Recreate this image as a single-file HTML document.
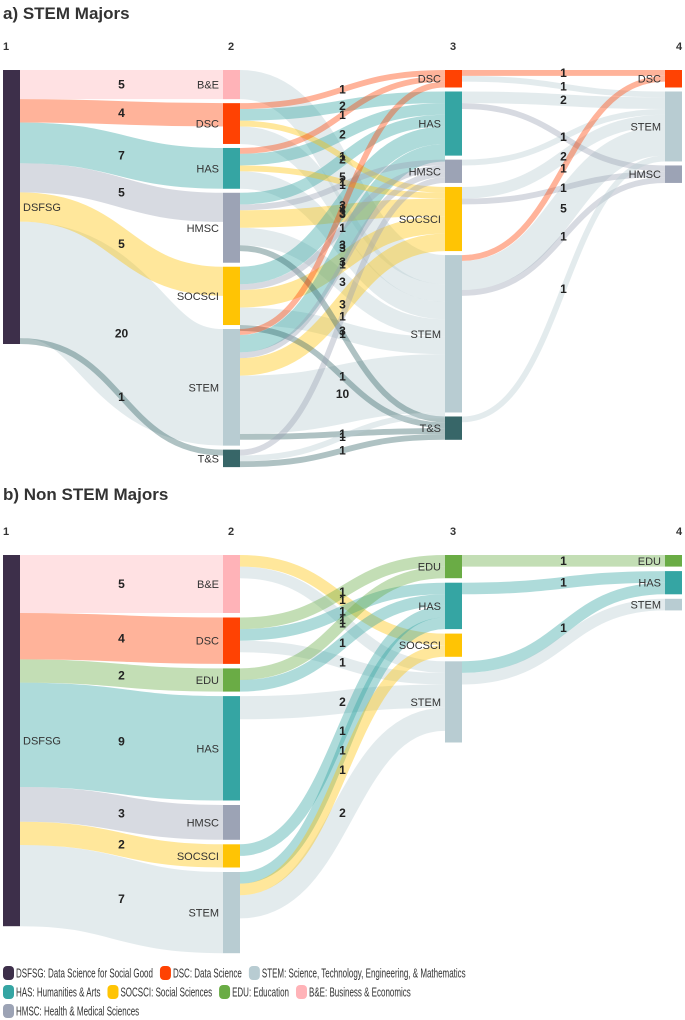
<!DOCTYPE html>
<html><head><meta charset="utf-8">
<style>
html,body{margin:0;padding:0;background:#fff;width:685px;height:1020px;overflow:hidden;font-family:"Liberation Sans",sans-serif;}
svg text{font-family:"Liberation Sans",sans-serif;}
</style></head>
<body>
<svg id="chart" width="685" height="1020" viewBox="0 0 685 1020" xmlns="http://www.w3.org/2000/svg">
<text x="3" y="19" font-size="17" font-weight="bold" fill="#333">a) STEM Majors</text>
<text x="3" y="500" font-size="17" font-weight="bold" fill="#333">b) Non STEM Majors</text>
<g id="legend"></g>
</svg>
<script>
// ---------- Panel a data ----------
const aNodeNames = [["DSFSG"],["B&E","DSC","HAS","HMSC","SOCSCI","STEM","T&S"],["DSC","HAS","HMSC","SOCSCI","STEM","T&S"],["DSC","STEM","HMSC"]];
const aNodeValues = [[47],[5,7,7,12,10,20,3],[3,11,4,11,27,4],[3,12,3]];
const aLinkFrom = ["0:DSFSG","0:DSFSG","0:DSFSG","0:DSFSG","0:DSFSG","0:DSFSG","0:DSFSG",
 "1:B&E","1:DSC","1:DSC","1:DSC","1:DSC","1:HAS","1:HAS","1:HAS","1:HAS","1:HMSC","1:HMSC","1:HMSC","1:HMSC","1:HMSC",
 "1:SOCSCI","1:SOCSCI","1:SOCSCI","1:SOCSCI","1:SOCSCI","1:STEM","1:STEM","1:STEM","1:STEM","1:STEM","1:STEM","1:T&S","1:T&S","1:T&S",
 "2:DSC","2:DSC","2:HAS","2:HAS","2:HMSC","2:SOCSCI","2:SOCSCI","2:STEM","2:STEM","2:STEM","2:T&S"];
const aLinkTo = ["1:B&E","1:DSC","1:HAS","1:HMSC","1:SOCSCI","1:STEM","1:T&S",
 "2:STEM","2:DSC","2:HAS","2:SOCSCI","2:STEM","2:DSC","2:HAS","2:SOCSCI","2:STEM","2:HAS","2:HMSC","2:SOCSCI","2:STEM","2:T&S",
 "2:HAS","2:HMSC","2:SOCSCI","2:STEM","2:T&S","2:DSC","2:HAS","2:HMSC","2:SOCSCI","2:STEM","2:T&S","2:HMSC","2:STEM","2:T&S",
 "3:DSC","3:STEM","3:STEM","3:HMSC","3:STEM","3:STEM","3:HMSC","3:DSC","3:STEM","3:HMSC","3:STEM"];
const aLinkValue = [5,4,7,5,5,20,1,
 5,1,2,1,3,1,2,1,3,2,1,3,3,1,
 3,1,3,3,1,1,3,1,3,10,1,1,1,1,
 1,1,2,1,1,2,1,1,5,1,1];
const aHiddenLabels = [];

// ---------- Panel b data ----------
const bNodeNames = [["DSFSG"],["B&E","DSC","EDU","HAS","HMSC","SOCSCI","STEM"],["EDU","HAS","SOCSCI","STEM"],["EDU","HAS","STEM"]];
const bNodeValues = [[32],[5,4,2,9,3,2,7],[2,4,2,7],[1,2,1]];
const bLinkFrom = ["0:DSFSG","0:DSFSG","0:DSFSG","0:DSFSG","0:DSFSG","0:DSFSG","0:DSFSG",
 "1:B&E","1:B&E","1:DSC","1:DSC","1:DSC","1:EDU","1:EDU","1:HAS","1:SOCSCI","1:STEM","1:STEM","1:STEM",
 "2:EDU","2:HAS","2:STEM","2:STEM"];
const bLinkTo = ["1:B&E","1:DSC","1:EDU","1:HAS","1:HMSC","1:SOCSCI","1:STEM",
 "2:SOCSCI","2:STEM","2:EDU","2:HAS","2:STEM","2:EDU","2:HAS","2:STEM","2:HAS","2:HAS","2:SOCSCI","2:STEM",
 "3:EDU","3:HAS","3:HAS","3:STEM"];
const bLinkValue = [5,4,2,9,3,2,7,
 1,1,1,1,1,1,1,2,1,1,1,2,
 1,1,1,1];
const bHiddenLabels = [22];

// ---------- Legend data ----------
const legendKeys = ["DSFSG","DSC","STEM","HAS","SOCSCI","EDU","B&E","HMSC"];
const legendLabels = ["DSFSG: Data Science for Social Good","DSC: Data Science","STEM: Science, Technology, Engineering, & Mathematics","HAS: Humanities & Arts","SOCSCI: Social Sciences","EDU: Education","B&E: Business & Economics","HMSC: Health & Medical Sciences"];

const COLORS = {"DSFSG":"#3d2f4a","DSC":"#ff4203","STEM":"#b8ccd2","HAS":"#35a5a3","SOCSCI":"#ffc404","EDU":"#6aac45","B&E":"#ffb3b8","HMSC":"#9ca3b5","T&S":"#376668"};
const NS = "http://www.w3.org/2000/svg";
const svg = document.getElementById("chart");
function mk(tag, attrs, parent){const e=document.createElementNS(NS,tag);for(const k in attrs)e.setAttribute(k,attrs[k]);(parent||svg).appendChild(e);return e;}
function slug(s){return s.toLowerCase().replace(/&/g,"and").replace(/[^a-z0-9]+/g,"-");}

function drawSankey(p, names, values, from, to, vals, hidden, top, scale, gap, xs, headerY){
  const W = 17;
  const nodes = {};
  names.forEach((col,ci)=>{
    let y = top;
    col.forEach((n,i)=>{
      const h = values[ci][i]*scale;
      nodes[ci+":"+n] = {ci, i, name:n, y0:y, h, so:y, to:y};
      y += h + gap;
    });
  });
  const links = from.map((f,k)=>({k, s:nodes[f], t:nodes[to[k]], v:vals[k]}));
  const byS = links.slice().sort((a,b)=>a.s.ci-b.s.ci||a.s.i-b.s.i||a.t.i-b.t.i);
  byS.forEach(l=>{l.sy=l.s.so+l.v*scale/2;l.s.so+=l.v*scale;});
  const byT = links.slice().sort((a,b)=>a.t.ci-b.t.ci||a.t.i-b.t.i||a.s.i-b.s.i);
  byT.forEach(l=>{l.ty=l.t.to+l.v*scale/2;l.t.to+=l.v*scale;});
  const lg = mk("g",{});
  
  
  links.slice().sort((a,b)=>b.v-a.v).forEach(l=>{
    const x0 = xs[l.s.ci]+W, x1 = xs[l.t.ci], mx=(x0+x1)/2;
    const path = mk("path",{d:`M${x0},${l.sy} C${mx},${l.sy} ${mx},${l.ty} ${x1},${l.ty}`,fill:"none",stroke:COLORS[l.t.name],"stroke-width":Math.max(1,l.v*scale),"stroke-opacity":0.4},lg);
    
    
  });
  links.forEach(l=>{
    if (hidden.indexOf(l.k) >= 0) return;
    const x0 = xs[l.s.ci]+W, x1 = xs[l.t.ci];
    const t = mk("text",{x:(x0+x1)/2,y:(l.sy+l.ty)/2+4,"font-size":12,"font-weight":"bold","text-anchor":"middle",fill:"#222"});
    t.textContent = l.v;
    
    
  });
  Object.values(nodes).forEach(n=>{
    const r = mk("rect",{x:xs[n.ci],y:n.y0,width:W,height:n.h,fill:COLORS[n.name]});
    
    
    const lt = n.ci===0 ? mk("text",{x:xs[0]+W+3,y:n.y0+n.h/2+4,"font-size":11,fill:"#333"})
                        : mk("text",{x:xs[n.ci]-4,y:n.y0+n.h/2+4,"font-size":11,fill:"#333","text-anchor":"end"});
    lt.textContent = n.name;
    
    
  });
  xs.forEach((x,i)=>{
    const h = mk("text",{x:i===0?x+3:(i===3?x+14:x+8),y:headerY,"font-size":11,"font-weight":"bold",fill:"#333","text-anchor":"middle"});
    h.textContent = i+1;
    
    
  });
}
const XS = [3,223,445,665];
drawSankey("panel-a", aNodeNames, aNodeValues, aLinkFrom, aLinkTo, aLinkValue, aHiddenLabels, 70, 5.83, 4, XS, 50);
drawSankey("panel-b", bNodeNames, bNodeValues, bLinkFrom, bLinkTo, bLinkValue, bHiddenLabels, 555, 11.6, 4.5, XS, 535);

// legend
const legend = document.getElementById("legend");
const rows = [[0,1,2],[3,4,5,6],[7]];
rows.forEach((row,ri)=>{
  let x = 3; const y = 966 + ri*19;
  row.forEach(k=>{
    const sw = mk("rect",{x:x,y:y,width:11,height:14,rx:4,fill:COLORS[legendKeys[k]]},legend);
    
    
    const t = mk("text",{x:x+13,y:y+11.5,"font-size":12.5,fill:"#333"},legend);
    t.textContent = legendLabels[k];
    
    
    const w = t.getComputedTextLength()*0.64;
    t.setAttribute('textLength', w);
    t.setAttribute('lengthAdjust', 'spacingAndGlyphs');
    x += 13 + w + 7;
  });
});
</script>
</body></html>
